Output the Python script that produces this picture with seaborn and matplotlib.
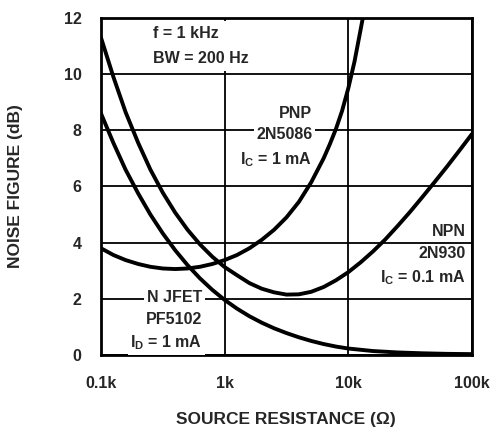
import matplotlib
matplotlib.use("Agg")
import matplotlib.pyplot as plt
import pandas as pd
import seaborn as sns

# Curves: source resistance (ohm) vs noise figure (dB)
jfet_r = [100, 126, 158, 200, 251, 316, 398, 501, 631, 794, 1000, 1259, 1585,
          1995, 2512, 3162, 3981, 5012, 6310, 7943, 10000, 15849, 25119, 39811,
          63096, 100000]
jfet_nf = [8.6, 7.55, 6.6, 5.75, 5.0, 4.33, 3.73, 3.2, 2.73, 2.32, 1.96, 1.65,
           1.38, 1.15, 0.95, 0.78, 0.63, 0.5, 0.39, 0.3, 0.23, 0.14, 0.09, 0.06,
           0.04, 0.03]

npn_r = [100, 126, 158, 200, 251, 316, 398, 501, 631, 794, 1000, 1259, 1585,
         1995, 2512, 3162, 3981, 5012, 6310, 7943, 10000, 12589, 15849, 19953,
         25119, 31623, 39811, 50119, 63096, 79433, 100000]
npn_nf = [11.3, 9.9, 8.65, 7.55, 6.6, 5.78, 5.07, 4.46, 3.94, 3.5, 3.13, 2.84,
          2.56, 2.36, 2.23, 2.15, 2.16, 2.25, 2.42, 2.66, 2.95, 3.3, 3.69, 4.12,
          4.6, 5.1, 5.63, 6.17, 6.72, 7.29, 7.87]

pnp_r = [100, 126, 158, 200, 251, 316, 398, 501, 631, 794, 1000, 1259, 1585,
         1995, 2512, 3162, 3981, 5012, 6310, 7079, 7943, 8913, 10000, 11220,
         12589, 13490]
pnp_nf = [3.8, 3.56, 3.38, 3.24, 3.14, 3.08, 3.06, 3.08, 3.14, 3.24, 3.38, 3.56,
          3.8, 4.1, 4.46, 4.9, 5.45, 6.15, 7.0, 7.5, 8.05, 8.7, 9.5, 10.45,
          11.6, 12.3]

x_ticks = [100, 1000, 10000, 100000]
x_ticklabels = ["0.1k", "1k", "10k", "100k"]
y_ticks = [0, 2, 4, 6, 8, 10, 12]

sns.set_style("white")
plt.rcParams["font.family"] = ["Liberation Sans", "DejaVu Sans"]
plt.rcParams["font.weight"] = "bold"
plt.rcParams["mathtext.fontset"] = "custom"
plt.rcParams["mathtext.rm"] = "Liberation Sans:bold"
plt.rcParams["mathtext.it"] = "Liberation Sans:bold"
plt.rcParams["mathtext.bf"] = "Liberation Sans:bold"

FS = 11.5
LAB_FS = 12.5

df = pd.concat([
    pd.DataFrame({"r": jfet_r, "nf": jfet_nf, "dev": "jfet"}),
    pd.DataFrame({"r": npn_r, "nf": npn_nf, "dev": "npn"}),
    pd.DataFrame({"r": pnp_r, "nf": pnp_nf, "dev": "pnp"}),
])

fig = plt.figure(figsize=(4.96, 4.28), dpi=100)
ax = fig.add_axes([0.2036, 0.1706, 0.748, 0.7874])

for dev, sub in df.groupby("dev"):
    sns.lineplot(data=sub, x="r", y="nf", ax=ax, color="black", lw=2.8,
                 zorder=4, legend=False, estimator=None, sort=True)

ax.set_xscale("log")
ax.set_xlim(100, 100000)
ax.set_ylim(0, 12)
ax.set_xticks(x_ticks)
ax.set_xticklabels(x_ticklabels)
ax.minorticks_off()
ax.set_yticks(y_ticks)
ax.tick_params(length=0, labelsize=FS, pad=14)
ax.tick_params(axis="x", pad=15)
for lab in ax.get_xticklabels() + ax.get_yticklabels():
    lab.set_fontweight("bold")

ax.grid(True, color="black", lw=1.3, zorder=1)
ax.set_axisbelow(True)
for sp in ax.spines.values():
    sp.set_color("black")
    sp.set_linewidth(2.0)

ax.set_xlabel("SOURCE RESISTANCE (\u03a9)", fontsize=LAB_FS, fontweight="bold")
ax.set_ylabel("NOISE FIGURE (dB)", fontsize=LAB_FS, fontweight="bold")
ax.xaxis.set_label_coords(0.497, -0.17)
ax.yaxis.set_label_coords(-0.21, 0.5)

# conditions block (white box hides the 1k grid line above 10 dB)
ax.text(263, 11.0, "f = 1 kHz\nBW = 200 Hz", ha="left", va="center",
        fontsize=FS, fontweight="bold", linespacing=1.8, zorder=3,
        bbox=dict(facecolor="white", edgecolor="none", pad=4))

box = dict(facecolor="white", edgecolor="none", pad=2)


def label_lines(x, ys, lines):
    for y, s in zip(ys, lines):
        ax.text(x, y, s, ha="right", va="center", fontsize=FS,
                fontweight="bold", bbox=box, zorder=3)


label_lines(5130, [8.6, 7.85, 6.95], ["PNP", "2N5086", "$\\mathrm{I_C}$ = 1 mA"])
label_lines(89000, [4.4, 3.6, 2.75],
            ["NPN", "2N930", "$\\mathrm{I_C}$ = 0.1 mA"])
label_lines(660, [2.03, 1.25, 0.43],
            ["N JFET", "PF5102", "$\\mathrm{I_D}$ = 1 mA"])

fig.savefig("out.png", dpi=100)
